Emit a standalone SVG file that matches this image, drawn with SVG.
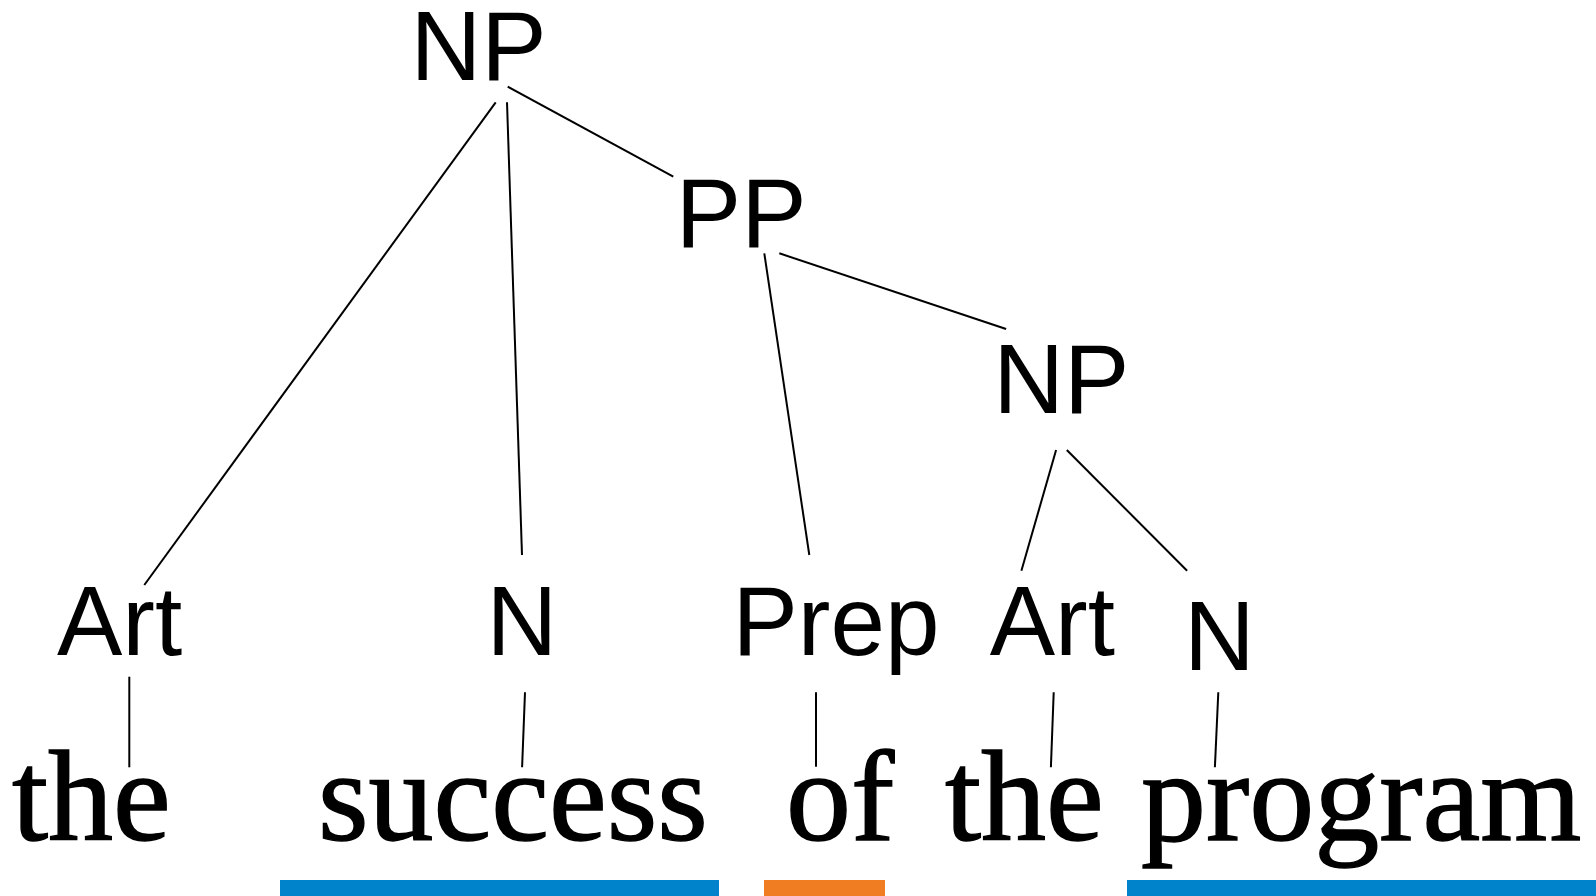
<svg xmlns="http://www.w3.org/2000/svg" width="1596" height="896" viewBox="0 0 1596 896">
<style>
.lab{font-family:"Liberation Sans",Arial,sans-serif;font-size:98px;fill:#000}
.word{font-family:"Liberation Serif","Times New Roman",serif;font-size:130px;fill:#000;stroke:#000;stroke-width:1.4}
.edge{stroke:#000;stroke-width:2;fill:none}
</style>
<rect width="1596" height="896" fill="#fff"/>
<g id="connectors">
<line class="edge" x1="495.7" y1="102.3" x2="144.3" y2="585"/>
<line class="edge" x1="507" y1="102.3" x2="522" y2="555"/>
<line class="edge" x1="507.7" y1="86.7" x2="673.3" y2="176.7"/>
<line class="edge" x1="764.3" y1="253.3" x2="809.3" y2="555"/>
<line class="edge" x1="779.3" y1="253.3" x2="1006.1" y2="329"/>
<line class="edge" x1="1056.1" y1="450" x2="1021.4" y2="570.7"/>
<line class="edge" x1="1066.8" y1="450" x2="1187.1" y2="570.7"/>
<line class="edge" x1="129.3" y1="676.7" x2="129.3" y2="767.3"/>
<line class="edge" x1="525" y1="692.3" x2="522.1" y2="767.3"/>
<line class="edge" x1="816" y1="692.3" x2="816" y2="766.7"/>
<line class="edge" x1="1053.7" y1="692.3" x2="1050.9" y2="767.3"/>
<line class="edge" x1="1218.3" y1="692.3" x2="1214.9" y2="767.3"/>
</g>
<g id="np-root"><text class="lab" x="410.6" y="80">NP</text></g>
<g id="pp"><text class="lab" x="675.8" y="246.7">PP</text></g>
<g id="np-inner"><text class="lab" x="993.3" y="412.7">NP</text></g>
<g id="art1"><text class="lab" x="57" y="655">Art</text></g>
<g id="n1"><text class="lab" x="486.6" y="655">N</text></g>
<g id="prep"><text class="lab" x="732.5" y="655">Prep</text></g>
<g id="art2"><text class="lab" x="989.7" y="655">Art</text></g>
<g id="n2"><text class="lab" x="1184" y="670">N</text></g>
<g id="w-the1"><text class="word" x="12" y="840">the</text></g>
<g id="w-success"><text class="word" x="318" y="840">success</text></g>
<g id="w-of"><text class="word" x="786" y="840">of</text></g>
<g id="w-the2"><text class="word" x="945" y="840">the</text></g>
<g id="w-program"><text class="word" x="1141" y="840">program</text></g>
<g id="bars">
<rect x="280" y="880" width="439" height="16" fill="#0083CA"/>
<rect x="764" y="880" width="121" height="16" fill="#F07D22"/>
<rect x="1127" y="880" width="469" height="16" fill="#0083CA"/>
</g>
</svg>
